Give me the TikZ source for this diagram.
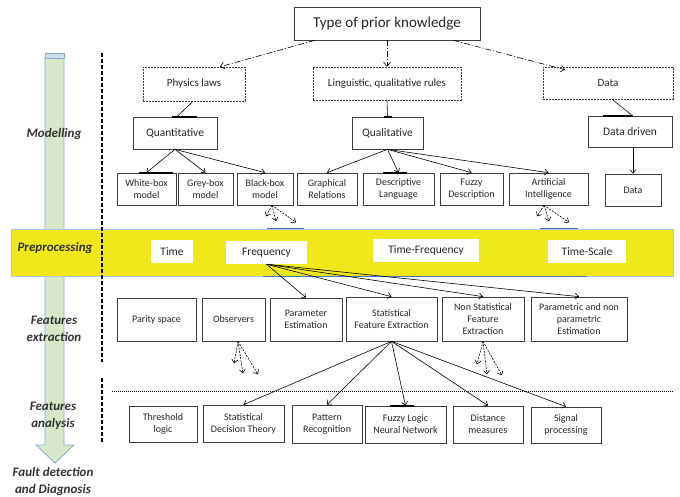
\documentclass[tikz,border=0pt]{standalone}
\usepackage{fontspec}
\setmainfont{Carlito}
\usetikzlibrary{arrows.meta,positioning}
\definecolor{bandyellow}{RGB}{240,232,26}
\definecolor{arrowgreen}{RGB}{214,232,200}
\definecolor{arrowblue}{RGB}{140,170,210}
\definecolor{edgeblue}{RGB}{70,120,200}
\definecolor{boxgray}{RGB}{60,60,60}

\begin{document}
\begin{tikzpicture}[x=1pt,y=-1pt]
	\tikzstyle{knowbox} = [draw=boxgray,dashed,dash pattern=on 2pt off 1pt,line width=0.5pt,inner sep=0,text=black!85,font=\fontsize{11}{13}\selectfont];
	\tikzstyle{classbox} = [draw=boxgray,line width=0.7pt,inner sep=0,text=black!85,font=\fontsize{11.5}{13}\selectfont];
	\tikzstyle{leafbox} = [draw=boxgray,line width=0.7pt,inner sep=0,align=center,text=black!85,font=\fontsize{10}{12}\selectfont];
	\tikzstyle{signalbox} = [fill=white,inner sep=0,text=black!85,font=\fontsize{11.5}{13}\selectfont];
	\tikzstyle{stage} = [align=center,text=black!80,font=\fontsize{13}{17}\selectfont\bfseries\itshape];
	\tikzstyle{arr} = [-{Straight Barb[length=3.5pt,width=6pt]},line width=0.6pt];
	\tikzstyle{dasharr} = [-{Straight Barb[length=3.5pt,width=6pt]},line width=0.6pt,dash pattern=on 2pt off 1.2pt];
	\tikzstyle{dotarr} = [-{Straight Barb[length=4pt,width=7pt]},line width=0.6pt,dash pattern=on 6pt off 2pt on 1pt off 2pt];
	\tikzstyle{thickedge} = [line width=2pt];
	\useasboundingbox (0,0) rectangle (680,497);
	% stage arrow and preprocessing band
	\draw[arrowblue,fill=arrowgreen,line width=0.8pt] (45,58) -- (64,58) -- (64,445) -- (74,445) -- (55,463) -- (36,445) -- (45,445) -- cycle;
	\draw[arrowblue,fill=arrowblue!40,line width=0.8pt] (45,53) rectangle (64,58);
	\draw[arrowblue!70,fill=bandyellow,line width=0.6pt] (11,229) rectangle (673,276);
	\draw[edgeblue,line width=1pt] (267,229) -- (304,229) (540,229) -- (578,229) (263,276) -- (587,276);
	\draw[line width=1.3pt,dash pattern=on 4pt off 2pt] (102,53) -- (102,362) (102,378) -- (102,443);
	\draw[line width=1pt,dash pattern=on 1pt off 1pt] (112,391) -- (673,391);
	\node (modl) [stage] at (54,134) {Modelling};
	\node (prep) [stage] at (55,248) {Preprocessing};
	\node (fext) [stage] at (54,329) {Features\\extraction};
	\node (fana) [stage] at (53,416) {Features\\analysis};
	\node (fdd) [stage] at (53,482) {Fault detection\\and Diagnosis};
	% prior knowledge
	\node (type) [classbox,minimum width=186,minimum height=33,font=\fontsize{15}{17}\selectfont] at (387,23.5) {Type of prior knowledge};
	\node (phys) [knowbox,minimum width=102,minimum height=34] at (194,84) {Physics laws};
	\node (ling) [knowbox,minimum width=148,minimum height=33] at (387,83.5) {Linguistic, qualitative rules};
	\node (data) [knowbox,minimum width=130,minimum height=32] at (608,83) {Data};
	\draw[dotarr] ([xshift=21]type.south west) -- ([xshift=26]phys.north);
	\draw[dotarr] (type.south) -- (ling.north);
	\draw[dotarr] ([xshift=-27]type.south east) -- ([xshift=-43,yshift=-3]data.north);
	% modelling
	\node (quant) [classbox,minimum width=84,minimum height=32] at (175,133) {Quantitative};
	\node (qual) [classbox,minimum width=71,minimum height=32] at (387.5,133) {Qualitative};
	\node (ddriven) [classbox,minimum width=84,minimum height=31] at (630,132) {Data driven};
	\draw[line width=0.6pt] ([xshift=-1]phys.south) -- ([xshift=2]quant.north);
	\draw[line width=0.6pt] (ling.south) -- (qual.north);
	\draw[line width=0.6pt] ([xshift=4]data.south) -- ([xshift=3]ddriven.north);
	\draw[thickedge] ([xshift=-3]quant.north) -- ([xshift=22]quant.north);
	\draw[thickedge] ([xshift=-4]qual.north) -- ([xshift=4]qual.north);
	\draw[thickedge] ([xshift=-27]ddriven.north) -- ([xshift=3]ddriven.north);
	\node (wbox) [leafbox,minimum width=59,minimum height=32] at (146.5,189) {White-box\\model};
	\node (gbox) [leafbox,minimum width=55,minimum height=32] at (205.5,189) {Grey-box\\model};
	\node (bbox) [leafbox,minimum width=56,minimum height=32] at (265,189) {Black-box\\model};
	\node (graph) [leafbox,minimum width=60,minimum height=32] at (327,189) {Graphical\\Relations};
	\node (desc) [leafbox,minimum width=71,minimum height=32] at (398.5,189) {Descriptive\\Language};
	\node (fuzzy) [leafbox,minimum width=63,minimum height=32] at (471.5,189) {Fuzzy\\Description};
	\node (ai) [leafbox,minimum width=79,minimum height=32] at (548.5,189) {Artificial\\Intelligence};
	\node (dleaf) [leafbox,minimum width=56,minimum height=32] at (633,190) {Data};
	\foreach \leaf in {wbox,gbox,bbox}
		\draw[arr] (quant.south) -- (\leaf.north);
	\foreach \leaf in {graph,desc,fuzzy,ai}
		\draw[arr] (qual.south) -- (\leaf.north);
	\draw[arr] ([xshift=3]ddriven.south) -- (dleaf.north);
	\draw[thickedge] ([xshift=-8]wbox.north) -- ([xshift=26]wbox.north);
	\draw[thickedge] ([xshift=-16]desc.north) -- ([xshift=8]desc.north);
	\foreach \dx/\dy in {-6/11,4/16,24/17}
		\draw[dasharr] ([xshift=7]bbox.south) -- ++(\dx,\dy);
	\foreach \dx/\dy in {-7/11,5/16,25/17}
		\draw[dasharr] ([xshift=-4.5]ai.south) -- ++(\dx,\dy);
	% preprocessing
	\node (time) [signalbox,minimum width=42,minimum height=23] at (172,251.5) {Time};
	\node (freq) [signalbox,minimum width=81,minimum height=23] at (266.5,252.5) {Frequency};
	\node (tfreq) [signalbox,minimum width=106,minimum height=23] at (426,250.5) {Time-Frequency};
	\node (tscale) [signalbox,minimum width=78,minimum height=23] at (587,251.5) {Time-Scale};
	% features extraction
	\node (parity) [leafbox,minimum width=79,minimum height=43] at (156.5,319.5) {Parity space};
	\node (observ) [leafbox,minimum width=63,minimum height=43] at (233.5,319.5) {Observers};
	\node (paramest) [leafbox,minimum width=72,minimum height=43] at (306,319.5) {Parameter\\Estimation};
	\node (sfe) [leafbox,minimum width=91,minimum height=44] at (391.5,319) {Statistical\\Feature Extraction};
	\node (nsfe) [leafbox,minimum width=82,minimum height=44] at (483,319) {Non Statistical\\Feature\\Extraction};
	\node (pnp) [leafbox,minimum width=96,minimum height=44] at (579,319) {Parametric and non\\parametric\\Estimation};
	\foreach \target in {paramest,sfe,nsfe,pnp}
		\draw[arr] (freq.south) -- (\target.north);
	\foreach \dx/\dy in {-4/22,5/32,20/33}
		\draw[dasharr] ([xshift=4.5]observ.south) -- ++(\dx,\dy);
	\foreach \dx/\dy in {-6/23,4/33,19/34}
		\draw[dasharr] (nsfe.south) -- ++(\dx,\dy);
	% features analysis
	\node (thresh) [leafbox,minimum width=68,minimum height=36] at (163,424) {Threshold\\logic};
	\node (sdt) [leafbox,minimum width=81,minimum height=37] at (243.5,423.5) {Statistical\\Decision Theory};
	\node (patt) [leafbox,minimum width=70,minimum height=38] at (327,424) {Pattern\\Recognition};
	\node (flnn) [leafbox,minimum width=81,minimum height=37] at (405.5,424.5) {Fuzzy Logic\\Neural Network};
	\node (dist) [leafbox,minimum width=70,minimum height=37] at (488,424.5) {Distance\\measures};
	\node (signal) [leafbox,minimum width=70,minimum height=36] at (566,425) {Signal\\processing};
	\foreach \target in {sdt,patt,flnn,dist,signal}
		\draw[arr] (sfe.south) -- (\target.north);
	\draw[thickedge] ([xshift=-16]flnn.north) -- ([xshift=8]flnn.north);
\end{tikzpicture}
\end{document}
